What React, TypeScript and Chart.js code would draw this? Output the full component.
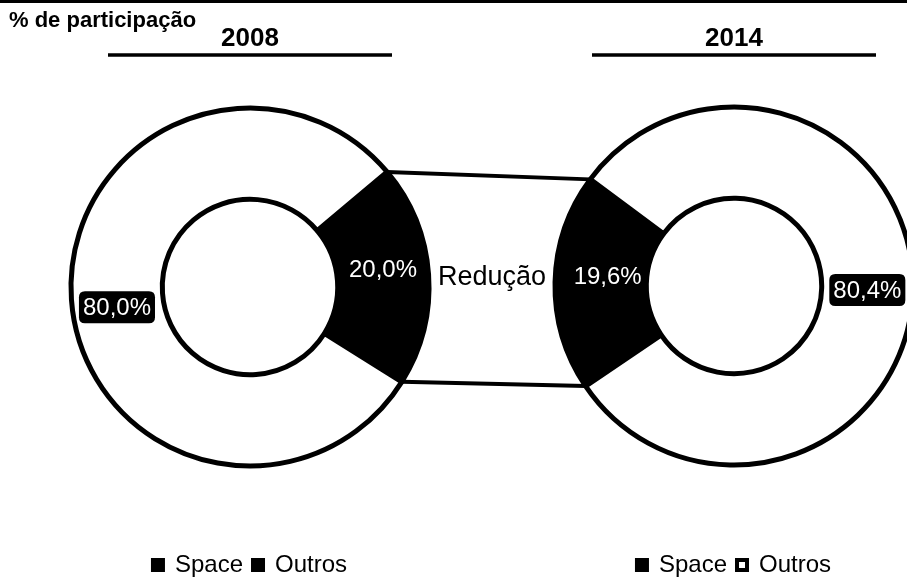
import React, { useEffect, useRef } from 'react';
import { Chart, registerables } from 'chart.js';

Chart.register(...registerables);

// ---- data ----
const categories = ['Space', 'Outros'];
const years = ['2008', '2014'];
const values2008 = [20.0, 80.0];
const values2014 = [19.6, 80.4];
const axisTitle = '% de participação';
const bridgeLabel = 'Redução';

// ---- style ----
const FONT = "'Liberation Sans', Arial, Helvetica, sans-serif";
const W = 907;
const H = 587;
const style = {
  left: { padding: { left: 47, right: 454, top: 31, bottom: 0 }, rotation: 50, labelDx: [0, 0], labelDy: [-8, 11], legendFill: ['#000', '#000'] },
  right: { padding: { left: 561, right: 0, top: 29, bottom: 0 }, rotation: 236, labelDx: [7, 0], labelDy: [-7, 1], legendFill: ['#000', '#fff'] },
};

const fmt = (v: number) => v.toFixed(1).replace('.', ',') + '%';

function roundRect(ctx: CanvasRenderingContext2D, x: number, y: number, w: number, h: number, r: number) {
  ctx.beginPath();
  ctx.moveTo(x + r, y);
  ctx.lineTo(x + w - r, y);
  ctx.quadraticCurveTo(x + w, y, x + w, y + r);
  ctx.lineTo(x + w, y + h - r);
  ctx.quadraticCurveTo(x + w, y + h, x + w - r, y + h);
  ctx.lineTo(x + r, y + h);
  ctx.quadraticCurveTo(x, y + h, x, y + h - r);
  ctx.lineTo(x, y + r);
  ctx.quadraticCurveTo(x, y, x + r, y);
  ctx.closePath();
}

function makeConfig(year: string, values: number[], st: any, isLeft: boolean, getLeft: () => Chart | null): any {
  const decor = {
    id: 'decor',
    afterDraw(chart: any) {
      const ctx: CanvasRenderingContext2D = chart.ctx;
      const arcs = chart.getDatasetMeta(0).data;
      const cx = arcs[0].x;
      ctx.save();
      ctx.fillStyle = '#000';
      ctx.strokeStyle = '#000';
      if (isLeft) {
        ctx.fillRect(0, 0, W, 3);
        ctx.font = `bold 22px ${FONT}`;
        ctx.textAlign = 'left';
        ctx.textBaseline = 'alphabetic';
        ctx.fillText(axisTitle, 9, 27);
      }
      // year header + underline
      ctx.font = `bold 26px ${FONT}`;
      ctx.textAlign = 'center';
      ctx.textBaseline = 'alphabetic';
      ctx.fillText(year, cx, 45.5);
      ctx.lineWidth = 3.5;
      ctx.beginPath();
      ctx.moveTo(cx - 142, 55);
      ctx.lineTo(cx + 142, 55);
      ctx.stroke();

      // bridge lines + label (drawn by right chart)
      const leftChart = getLeft();
      if (!isLeft && leftChart) {
        const la = leftChart.getDatasetMeta(0).data[0] as any;
        const ra = arcs[0];
        const pt = (a: any, ang: number) => [a.x + a.outerRadius * Math.cos(ang), a.y + a.outerRadius * Math.sin(ang)];
        const l1 = pt(la, la.startAngle), l2 = pt(la, la.endAngle);
        const r1 = pt(ra, ra.startAngle), r2 = pt(ra, ra.endAngle);
        ctx.lineWidth = 4;
        ctx.beginPath();
        ctx.moveTo(l1[0], l1[1]);
        ctx.lineTo(r2[0], r2[1]);
        ctx.moveTo(l2[0], l2[1]);
        ctx.lineTo(r1[0], r1[1]);
        ctx.stroke();
        const bx = ((la.x + la.outerRadius) + (ra.x - ra.outerRadius)) / 2;
        const by = (la.y + ra.y) / 2 - 9;
        ctx.font = `27px ${FONT}`;
        ctx.textAlign = 'center';
        ctx.textBaseline = 'middle';
        ctx.fillStyle = '#000';
        ctx.fillText(bridgeLabel, bx, by);
      }

      // data labels
      ctx.font = `24px ${FONT}`;
      ctx.textAlign = 'center';
      ctx.textBaseline = 'middle';
      arcs.forEach((arc: any, i: number) => {
        const p = arc.tooltipPosition(false);
        const x = p.x + st.labelDx[i];
        const y = p.y + st.labelDy[i];
        const txt = fmt(chart.data.datasets[0].data[i]);
        if (i === 1) {
          const w = ctx.measureText(txt).width + 8;
          ctx.fillStyle = '#000';
          roundRect(ctx, x - w / 2, y - 16, w, 32, 6);
          ctx.fill();
        }
        ctx.fillStyle = '#fff';
        ctx.fillText(txt, x, y + 1);
      });
      ctx.restore();
    },
  };

  return {
    type: 'doughnut',
    data: {
      labels: categories,
      datasets: [
        {
          data: values,
          backgroundColor: ['#000000', '#ffffff'],
          borderColor: '#000000',
          borderWidth: 5,
          hoverOffset: 0,
          offset: 0,
        },
      ],
    },
    options: {
      responsive: false,
      animation: false,
      events: [],
      radius: 179,
      cutout: '49%',
      rotation: st.rotation,
      circumference: 360,
      layout: { padding: st.padding },
      plugins: {
        tooltip: { enabled: false },
        title: { display: false },
        legend: {
          display: true,
          position: 'bottom',
          align: 'center',
          labels: {
            color: '#000',
            font: { family: FONT, size: 24 },
            boxWidth: 10,
            boxHeight: 10,
            padding: 10,
            generateLabels: (chart: any) =>
              chart.data.labels.map((t: string, i: number) => ({
                text: t,
                fillStyle: st.legendFill[i],
                strokeStyle: '#000',
                lineWidth: 4,
                hidden: false,
                index: i,
                datasetIndex: 0,
              })),
          },
        },
      },
    },
    plugins: [decor],
  };
}

export default function App() {
  const leftRef = useRef<HTMLCanvasElement>(null);
  const rightRef = useRef<HTMLCanvasElement>(null);

  useEffect(() => {
    document.body.style.margin = '0';
    let leftChart: Chart | null = null;
    leftChart = new Chart(leftRef.current!, makeConfig(years[0], values2008, style.left, true, () => null));
    const rightChart = new Chart(
      rightRef.current!,
      makeConfig(years[1], values2014, style.right, false, () => leftChart)
    );
    return () => {
      rightChart.destroy();
      leftChart && leftChart.destroy();
    };
  }, []);

  return (
    <div style={{ position: 'fixed', left: 0, top: 0, width: W, height: 578, overflow: 'hidden', background: '#fff' }}>
      <canvas ref={leftRef} width={W} height={H} style={{ position: 'absolute', left: 0, top: 0 }} />
      <canvas ref={rightRef} width={W} height={H} style={{ position: 'absolute', left: 0, top: 0 }} />
    </div>
  );
}
